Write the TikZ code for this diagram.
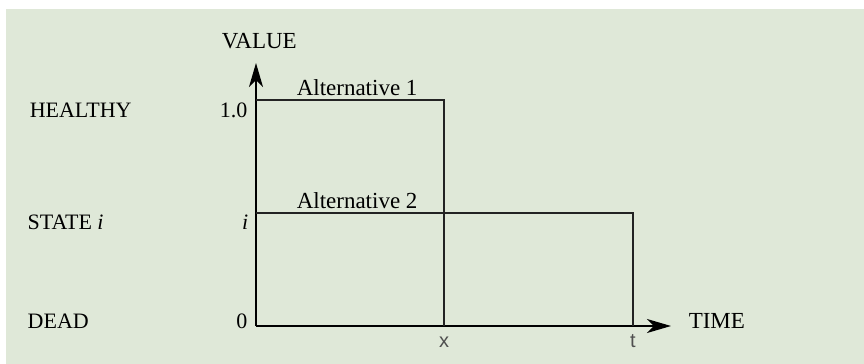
\documentclass[tikz,border=0pt]{standalone}
\usepackage{fontspec}
\setmainfont{Liberation Serif}
\newfontfamily\tickfont{Liberation Sans}
\usetikzlibrary{arrows.meta, positioning}
\definecolor{sage}{RGB}{223, 232, 216}
\definecolor{ink}{RGB}{35, 35, 35}

\begin{document}
\begin{tikzpicture} [%
    x = 0.5pt,
    y = -0.5pt,
    line width = 0.75pt,
    draw = ink,
    >= { Stealth[length=12pt, width=7pt, inset=3.5pt] },
    axis/.style = { ->, draw = black },
    state/.style = { anchor = base west, inner sep = 0pt, font = \fontsize{11}{13}\selectfont },
    level/.style = { anchor = base east, inner sep = 0pt, font = \fontsize{11}{13}\selectfont },
    alt/.style = { anchor = base west, inner sep = 0pt, font = \fontsize{11.5}{13}\selectfont },
    tick/.style = { anchor = base, inner sep = 0pt, text = ink!80, font = \tickfont\fontsize{10}{11}\selectfont }
  ]

  \useasboundingbox (0,0) rectangle (864,364);
  \fill[sage] (6,9) rectangle (864,364);

  % axes
  \coordinate (O) at (256,326);
  \coordinate (ytop) at (256,63);
  \coordinate (xend) at (671,326);
  \draw[axis] (O) -- (ytop);
  \draw[axis] (O) -- (xend);

  \node[alt] (value) at (221,48) {VALUE};
  \node[alt] (time) at (688,328) {TIME};

  % the two alternatives
  \coordinate (h) at (256,100);
  \coordinate (hx) at (444,100);
  \coordinate (x) at (444,326);
  \coordinate (s) at (256,213);
  \coordinate (st) at (633,213);
  \coordinate (t) at (633,326);

  \draw (h) -- (hx) -- (x);
  \draw (s) -- (st) -- (t);

  \node[alt] (alt1) at (296,96) {Alternative 1};
  \node[alt] (alt2) at (296,208) {Alternative 2};

  % health states and their values
  \node[state] (healthy) at (29,118) {HEALTHY};
  \node[state] (statei) at (27,229) {STATE \textit{i}};
  \node[state] (dead) at (27,328) {DEAD};

  \node[level] (one) at (248,118) {1.0};
  \node[level] (ival) at (249,229) {\textit{i}};
  \node[level] (zero) at (248,328) {0};

  \node[tick] (xlab) at (444,347) {x};
  \node[tick] (tlab) at (633,347) {t};

\end{tikzpicture}
\end{document}
